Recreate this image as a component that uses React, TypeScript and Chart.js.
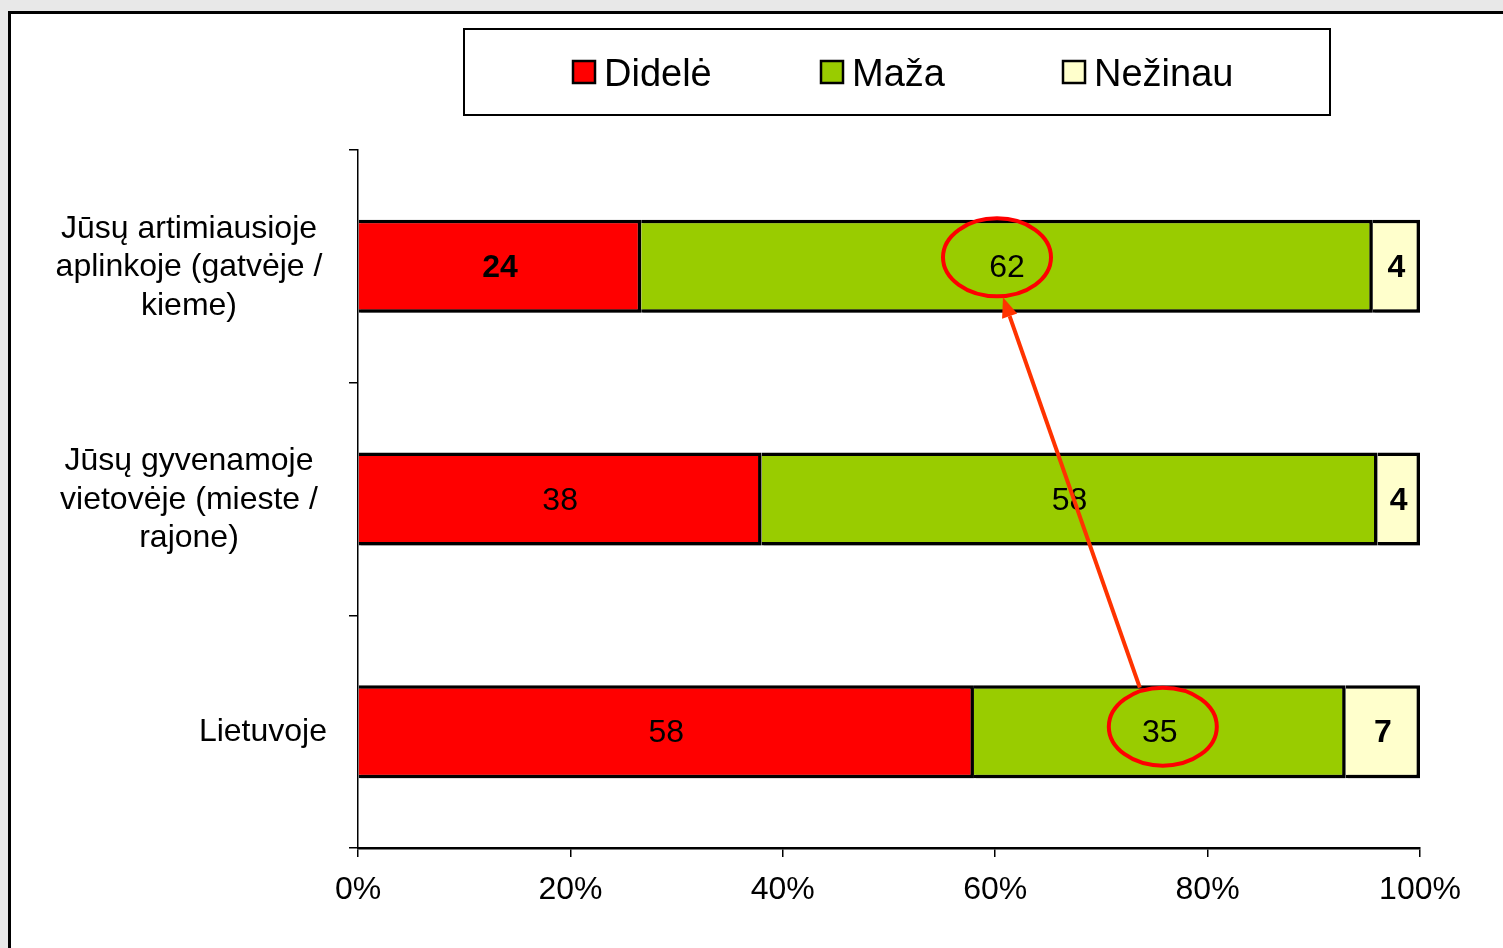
import React, { useEffect, useRef } from "react";
import { Chart, registerables } from "chart.js";

Chart.register(...registerables);

// ---- data ----
const categories: string[][] = [
  ["Jūsų artimiausioje", "aplinkoje (gatvėje /", "kieme)"],
  ["Jūsų gyvenamoje", "vietovėje (mieste /", "rajone)"],
  ["Lietuvoje"],
];
const seriesNames = ["Didelė", "Maža", "Nežinau"];
const didele = [24, 38, 58];
const maza = [62, 58, 35];
const nezinau = [4, 4, 7];
const xTickValues = [0, 20, 40, 60, 80, 100];
// highlighted cells (series index, category index): arrow goes from the second to the first
const highlighted = [
  { series: 1, cat: 0 },
  { series: 1, cat: 2 },
];

const colors = ["#FF0000", "#99CC00", "#FFFFCC"];
const FONT = "'Liberation Sans', Arial, sans-serif";

const rawSeries = [didele, maza, nezinau];
const totals = categories.map((_, i) => rawSeries.reduce((s, arr) => s + arr[i], 0));
const pctSeries = rawSeries.map((arr) => arr.map((v, i) => (v / totals[i]) * 100));

const W = 1503;
const H = 948;

const backgroundPlugin = {
  id: "bgFrame",
  beforeDraw(chart: any) {
    const ctx = chart.ctx;
    ctx.save();
    ctx.fillStyle = "#E8E8E8";
    ctx.fillRect(0, 0, W, H);
    ctx.fillStyle = "#FFFFFF";
    ctx.fillRect(9, 12, W, H);
    ctx.strokeStyle = "#000";
    ctx.lineWidth = 3;
    ctx.beginPath();
    ctx.moveTo(9.5, H);
    ctx.lineTo(9.5, 12.5);
    ctx.lineTo(W, 12.5);
    ctx.stroke();
    ctx.restore();
  },
};

const shadowLabelPlugin = {
  id: "shadowLabels",
  beforeDatasetsDraw(chart: any) {
    const ctx = chart.ctx;
    ctx.save();
    ctx.shadowColor = "rgba(0,0,0,0.3)";
    ctx.shadowOffsetX = 2;
    ctx.shadowOffsetY = 3;
    ctx.shadowBlur = 0;
  },
  afterDatasetsDraw(chart: any) {
    const ctx = chart.ctx;
    ctx.restore();
    ctx.save();
    ctx.fillStyle = "#000";
    ctx.textAlign = "center";
    ctx.textBaseline = "middle";
    chart.data.datasets.forEach((ds: any, di: number) => {
      const meta = chart.getDatasetMeta(di);
      meta.data.forEach((el: any, i: number) => {
        const bold = di === 2 || (di === 0 && i === 0);
        ctx.font = `${bold ? "bold " : ""}32px ${FONT}`;
        const cx = (el.x + el.base) / 2;
        ctx.fillText(String(rawSeries[di][i]), cx, el.y + 2);
      });
    });
    ctx.restore();
  },
};

const overlayPlugin = {
  id: "overlay",
  afterDraw(chart: any) {
    const ctx = chart.ctx;
    const yScale = chart.scales.y;
    ctx.save();

    // category labels
    ctx.fillStyle = "#000";
    ctx.font = `32px ${FONT}`;
    ctx.textBaseline = "middle";
    const lh = 38.5;
    categories.forEach((lines, i) => {
      const yc = yScale.getPixelForValue(i);
      const y0 = yc - ((lines.length - 1) * lh) / 2 + 1;
      lines.forEach((line, k) => {
        if (lines.length > 1) {
          ctx.textAlign = "center";
          ctx.fillText(line, 189, y0 + k * lh);
        } else {
          ctx.textAlign = "right";
          ctx.fillText(line, 327, y0 + k * lh);
        }
      });
    });

    // legend
    ctx.strokeStyle = "#000";
    ctx.lineWidth = 2;
    ctx.strokeRect(464, 29, 866, 86);
    const legendX = [573, 821, 1063];
    ctx.font = `38px ${FONT}`;
    ctx.textAlign = "left";
    seriesNames.forEach((name, i) => {
      ctx.fillStyle = colors[i];
      ctx.fillRect(legendX[i], 61, 22, 22);
      ctx.lineWidth = 2.5;
      ctx.strokeStyle = "#000";
      ctx.strokeRect(legendX[i], 61, 22, 22);
      ctx.fillStyle = "#000";
      ctx.fillText(name, legendX[i] + 31, 76);
    });

    // ellipses
    const rx = 54;
    const ry = 39;
    const ellipseShift = [
      { dx: -10, dy: -9 },
      { dx: 3, dy: -5 },
    ];
    const centers = highlighted.map((h, k) => {
      const el = chart.getDatasetMeta(h.series).data[h.cat];
      return { x: (el.x + el.base) / 2 + ellipseShift[k].dx, y: el.y + ellipseShift[k].dy };
    });
    ctx.strokeStyle = "#FF0000";
    ctx.lineWidth = 4;
    centers.forEach((c) => {
      ctx.beginPath();
      ctx.ellipse(c.x, c.y, rx, ry, 0, 0, Math.PI * 2);
      ctx.stroke();
    });

    // arrow
    const from = { x: centers[1].x - 23, y: centers[1].y - ry };
    const to = { x: centers[0].x + 6, y: centers[0].y + ry + 1 };
    const ang = Math.atan2(to.y - from.y, to.x - from.x);
    const headLen = 20;
    const headW = 8;
    const bx = to.x - headLen * Math.cos(ang);
    const by = to.y - headLen * Math.sin(ang);
    ctx.strokeStyle = "#FF3300";
    ctx.fillStyle = "#FF3300";
    ctx.lineWidth = 4;
    ctx.beginPath();
    ctx.moveTo(from.x, from.y);
    ctx.lineTo(bx, by);
    ctx.stroke();
    ctx.beginPath();
    ctx.moveTo(to.x, to.y);
    ctx.lineTo(bx + headW * Math.sin(ang), by - headW * Math.cos(ang));
    ctx.lineTo(bx - headW * Math.sin(ang), by + headW * Math.cos(ang));
    ctx.closePath();
    ctx.fill();

    ctx.restore();
  },
};

export default function App() {
  const ref = useRef<HTMLCanvasElement | null>(null);
  useEffect(() => {
    if (!ref.current) return;
    const chart = new Chart(ref.current, {
      type: "bar",
      data: {
        labels: categories.map((l) => l.join(" ")),
        datasets: seriesNames.map((name, i) => ({
          label: name,
          data: pctSeries[i],
          backgroundColor: colors[i],
          borderColor: "#000",
          borderWidth: { top: 3.5, bottom: 3.5, left: 0, right: 3.5 },
          borderSkipped: false,
          barPercentage: 0.4,
          categoryPercentage: 1,
        })),
      },
      options: {
        indexAxis: "y",
        responsive: false,
        animation: false,
        devicePixelRatio: 1,
        layout: { padding: { left: 0, top: 150, right: 83, bottom: 0 } },
        plugins: {
          legend: { display: false },
          tooltip: { enabled: false },
        },
        scales: {
          x: {
            type: "linear",
            stacked: true,
            min: 0,
            max: 100,
            afterBuildTicks: (scale: any) => {
              scale.ticks = xTickValues.map((v) => ({ value: v }));
            },
            afterFit: (scale: any) => {
              scale.height = 100;
            },
            ticks: {
              stepSize: 20,
              callback: (v: any) => `${v}%`,
              color: "#000",
              font: { family: FONT, size: 32 },
              padding: 14,
              maxRotation: 0,
            },
            grid: {
              drawOnChartArea: false,
              drawTicks: true,
              tickLength: 9,
              color: "#000",
              lineWidth: 1.5,
            },
            border: { display: true, color: "#000", width: 2.5 },
          },
          y: {
            type: "category",
            stacked: true,
            offset: true,
            afterFit: (scale: any) => {
              scale.width = 358;
            },
            ticks: { display: false },
            grid: {
              offset: true,
              drawOnChartArea: false,
              drawTicks: true,
              tickLength: 9,
              color: "#000",
              lineWidth: 1.5,
            },
            border: { display: true, color: "#000", width: 1.5 },
          },
        },
      },
      plugins: [backgroundPlugin, shadowLabelPlugin, overlayPlugin],
    } as any);
    return () => chart.destroy();
  }, []);

  return (
    <div style={{ position: "absolute", left: 0, top: 0, width: W, height: H }}>
      <canvas ref={ref} width={W} height={H} style={{ width: W, height: H, display: "block" }} />
    </div>
  );
}
